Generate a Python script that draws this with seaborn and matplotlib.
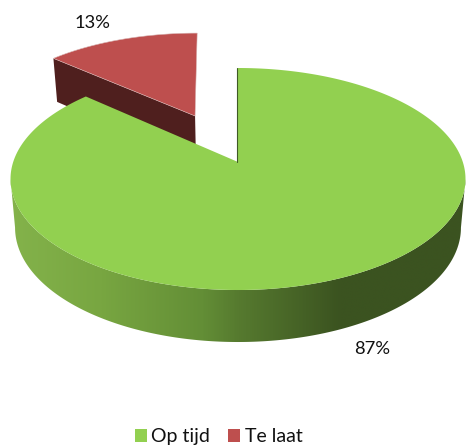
import numpy as np
import seaborn as sns
import matplotlib
matplotlib.use("Agg")
import matplotlib.pyplot as plt
from matplotlib.colors import LinearSegmentedColormap
from matplotlib.patches import Patch, Polygon

categories = ["Op tijd", "Te laat"]
shares = [86.6, 13.4]
labels = ["87%", "13%"]
colors = ["#92D050", "#BE4F4E"]
side_dark_red = "#4F1F1E"
side_stops = ["#84B34B", "#78A641", "#638E36", "#567A2F", "#3B5320", "#3B5320"]
side_pos = [0.0, 0.2, 0.42, 0.5, 0.72, 1.0]

sns.set_theme(style="white")
plt.rcParams["font.family"] = ["Lato", "DejaVu Sans"]

W, H = 466, 446
fig = plt.figure(figsize=(W / 100, H / 100), dpi=100)
ax = fig.add_axes([0, 0, 1, 1])

# perspective projection of the unit disc onto picture pixels
CX, CY, RX, RY, K = 238, 162, 224.8, 108.4, 0.1532


def top(u, v):
    d = 1 + K * v
    return CX + RX * u / d, CY - RY * v / d


def bottom(u, v):
    x, y = top(u, v)
    return CX + (x - CX) * 0.98, y + 48 - 4 * v


def arc(a0, a1, n=300):
    t = np.radians(np.linspace(a0, a1, n))
    return np.sin(t), np.cos(t)


green_end = 360 * shares[0] / sum(shares)

# exploded slice (angles clockwise from 12 o'clock), slightly sheared upright
EU, EV, SHEAR = -0.222, 0.454, 0.045
u, v = arc(green_end, 360)
u = np.r_[0, u] + EU
v = np.r_[0, v] + EV
xt, yt = top(u, v)
xb, yb = bottom(u, v)
y_ref = yt.min()
xt = xt + (yt - y_ref) * SHEAR
xb = xb + (yt - y_ref) * SHEAR
ax.add_patch(Polygon(np.c_[np.r_[xt[0], xt[1], xb[1], xb[0]],
                           np.r_[yt[0], yt[1], yb[1], yb[0]]],
                     fc=side_dark_red, ec="none", zorder=1))
ax.add_patch(Polygon(np.c_[xt, yt], fc=colors[1], ec="#D9B5B4", lw=0.4, zorder=2))

# rim of the big slice with a horizontal gradient, between the widest points
widest = np.degrees(np.arccos(-K))
u, v = arc(widest, 360 - widest)
xt, yt = top(u, v)
xb, yb = bottom(u, v)
rim = Polygon(np.c_[np.r_[xt, xb[::-1]], np.r_[yt, yb[::-1]]],
              fc="none", ec="none", transform=ax.transData)
ax.add_patch(rim)
cmap = LinearSegmentedColormap.from_list("rim", list(zip(side_pos, side_stops)))
img = ax.imshow(np.linspace(0, 1, 466)[None, :], cmap=cmap, aspect="auto",
                extent=(8, 470, 345, 170), zorder=3, interpolation="bilinear")
img.set_clip_path(rim)

# top of the big slice
u, v = arc(0, green_end, 600)
xt, yt = top(np.r_[0, u], np.r_[0, v])
ax.add_patch(Polygon(np.c_[xt, yt], fc=colors[0], ec="none", zorder=4))
x0, y0 = top(0, 0)
x1, y1 = top(0, 1)
ax.plot([x0 - 0.6, x1 - 0.6], [y0, y1], color="#3F5A25", lw=0.8, zorder=5)

ax.text(372, 349, labels[0], ha="center", va="center", fontsize=13.2, color="#111111", zorder=6)
ax.text(92, 23, labels[1], ha="center", va="center", fontsize=13.2, color="#111111", zorder=6)

ax.legend(handles=[Patch(fc=c, ec="none", label=n) for c, n in zip(colors, categories)],
          ncol=2, loc="lower center", bbox_to_anchor=(0.469, -0.038), frameon=False,
          fontsize=14, handlelength=0.62, handleheight=0.62, handletextpad=0.25,
          columnspacing=0.9, labelcolor="#111111")

ax.set_xlim(0, W)
ax.set_ylim(H, 0)
ax.axis("off")
sns.despine(ax=ax, left=True, bottom=True)
fig.savefig("out.png", dpi=100, facecolor="white")
